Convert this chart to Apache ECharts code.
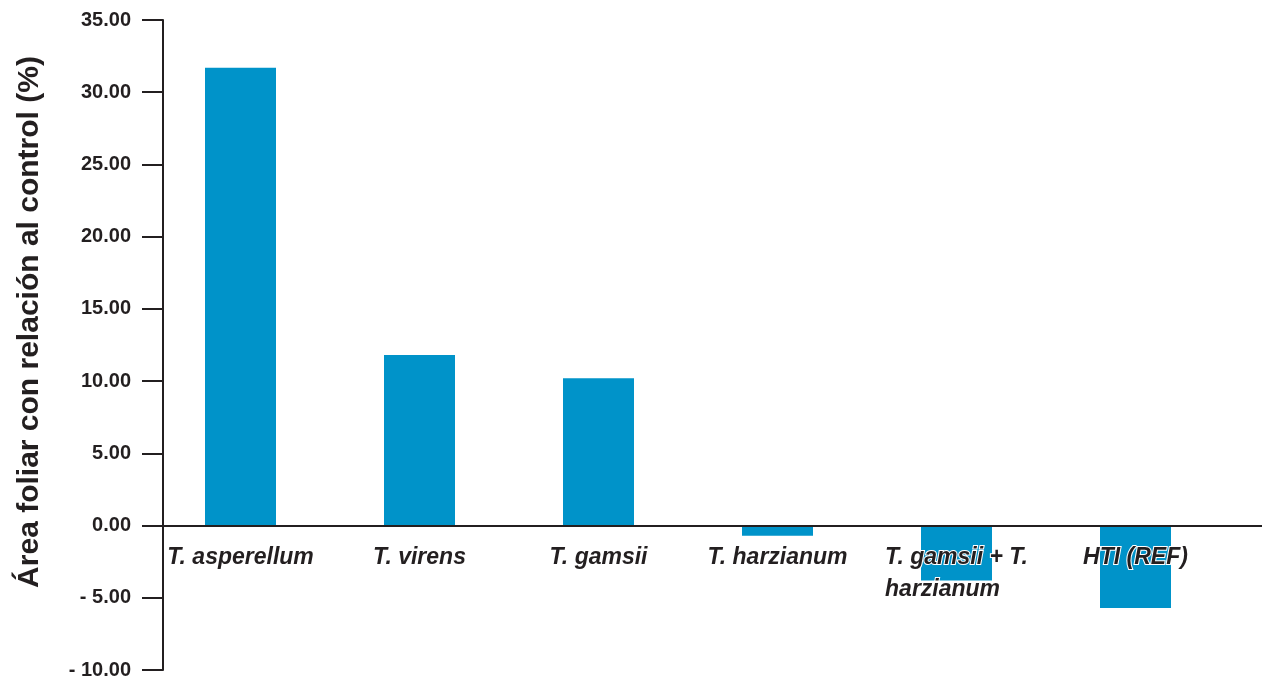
<!DOCTYPE html>
<html>
<head>
<meta charset="utf-8">
<script src="https://cdn.jsdelivr.net/npm/echarts@6/dist/echarts.min.js"></script>
<style>
  html, body { margin: 0; padding: 0; background: #fff; }
  #chart { width: 1262px; height: 679px; }
</style>
</head>
<body>
<div id="chart"></div>
<script>
// Trichoderma treatments and their leaf-area change relative to the control (%)
const categories = ['T. asperellum', 'T. virens', 'T. gamsii', 'T. harzianum', 'T. gamsii + T.\nharzianum', 'HTI (REF)'];
const areaChange = [31.7, 11.8, 10.2, -0.7, -3.8, -5.7];
const yTicks = { min: -10, max: 35, interval: 5 };
const yTitle = 'Área foliar con relación al control (%)';

const INK = '#231f20';
const BAR = '#0093c9';
const FONT = "'Liberation Sans', Arial, sans-serif";
const GRID_TOP = 20;
const GRID_BOTTOM = 9;

function fmtTick(v) {
  return v < 0 ? '- ' + Math.abs(v).toFixed(2) : v.toFixed(2);
}

const chart = echarts.init(document.getElementById('chart'), null, { renderer: 'canvas' });

chart.setOption({
  animation: false,
  backgroundColor: '#fff',
  grid: [
    { left: 151, right: 37, top: GRID_TOP, bottom: GRID_BOTTOM, containLabel: false, outerBoundsMode: 'none' },
    { left: 143, right: 0, top: GRID_TOP, bottom: GRID_BOTTOM, containLabel: false, outerBoundsMode: 'none' }
  ],
  xAxis: [
    {
      // category names, shifted up to sit under the zero line
      type: 'category',
      gridIndex: 0,
      data: categories,
      z: 10,
      axisLine: { show: false, onZero: false },
      axisTick: { show: false },
      axisLabel: {
        interval: 0,
        margin: 16,
        formatter: function (v) {
          return v.split('\n').map(function (s) { return '{c|' + s + '}'; }).join('\n');
        },
        rich: {
          c: {
            fontFamily: FONT,
            fontSize: 23,
            fontWeight: 'bold',
            fontStyle: 'italic',
            color: INK,
            align: 'left',
            lineHeight: 32,
            textBorderColor: '#fff',
            textBorderWidth: 2
          }
        }
      },
      splitLine: { show: false }
    },
    {
      // zero baseline running to the right edge
      type: 'value',
      gridIndex: 1,
      min: 0,
      max: 1,
      z: 9,
      axisLine: { show: true, onZero: true, lineStyle: { color: INK, width: 2 } },
      axisTick: { show: false },
      axisLabel: { show: false },
      splitLine: { show: false }
    }
  ],
  yAxis: [
    {
      type: 'value',
      gridIndex: 0,
      min: yTicks.min,
      max: yTicks.max,
      interval: yTicks.interval,
      offset: -12,
      z: 10,
      axisLine: { show: true, onZero: false, lineStyle: { color: INK, width: 2 } },
      axisTick: { show: true, inside: false, length: 21, lineStyle: { color: INK, width: 2 } },
      axisLabel: {
        margin: 32,
        formatter: fmtTick,
        fontFamily: FONT,
        fontSize: 20,
        fontWeight: 'bold',
        color: INK
      },
      splitLine: { show: false }
    },
    {
      type: 'value',
      gridIndex: 1,
      min: yTicks.min,
      max: yTicks.max,
      interval: yTicks.interval,
      show: false
    }
  ],
  graphic: [
    {
      type: 'text',
      x: 30,
      y: 322,
      rotation: Math.PI / 2,
      style: {
        text: yTitle,
        textAlign: 'center',
        textVerticalAlign: 'middle',
        font: "bold 30px 'Liberation Sans', Arial, sans-serif",
        fill: INK
      }
    }
  ],
  series: [
    {
      type: 'bar',
      xAxisIndex: 0,
      yAxisIndex: 0,
      data: areaChange,
      barWidth: 71,
      itemStyle: { color: BAR },
      z: 2
    }
  ]
});

// move the category labels from the grid bottom up to the value-axis zero
const zeroY = chart.convertToPixel({ yAxisIndex: 0 }, 0);
const bottomY = chart.getHeight() - GRID_BOTTOM;
chart.setOption({ xAxis: [{ offset: -(bottomY - zeroY) }, {}] });
</script>
</body>
</html>
